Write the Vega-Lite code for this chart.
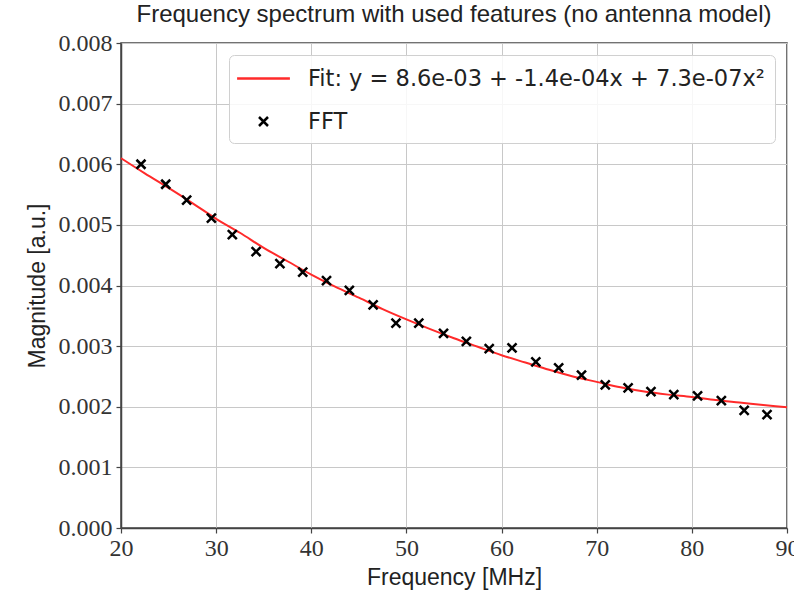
{
  "$schema": "https://vega.github.io/schema/vega-lite/v6.json",
  "autosize": {"type": "none"},
  "width": 666,
  "height": 485,
  "padding": {"left": 121, "top": 43, "right": 7, "bottom": 69},
  "background": "white",
  "config": {
    "view": {"stroke": "#444444", "strokeWidth": 1.5},
    "font": "Liberation Sans",
    "axis": {
      "labelFont": "Liberation Serif",
      "labelFontSize": 24,
      "labelColor": "#333333",
      "titleFont": "Liberation Sans",
      "titleFontSize": 23,
      "titleFontWeight": "normal",
      "titleColor": "#222222",
      "gridColor": "#c8c8c8",
      "gridWidth": 1,
      "domainColor": "#444444",
      "domainWidth": 1.5,
      "tickColor": "#444444",
      "tickSize": 5,
      "tickWidth": 1.2
    }
  },
  "title": {
    "text": "Frequency spectrum with used features (no antenna model)",
    "font": "Liberation Sans",
    "fontSize": 24,
    "fontWeight": "normal",
    "color": "#222222",
    "anchor": "middle",
    "offset": 4
  },
  "data": {
    "values": [
      {"f": 20, "m": 0.00610, "s": "Fit: y = 8.6e-03 + -1.4e-04x + 7.3e-07x²"},
      {"f": 22.5, "m": 0.00585, "s": "Fit: y = 8.6e-03 + -1.4e-04x + 7.3e-07x²"},
      {"f": 25, "m": 0.00561, "s": "Fit: y = 8.6e-03 + -1.4e-04x + 7.3e-07x²"},
      {"f": 27.5, "m": 0.00536, "s": "Fit: y = 8.6e-03 + -1.4e-04x + 7.3e-07x²"},
      {"f": 30, "m": 0.00510, "s": "Fit: y = 8.6e-03 + -1.4e-04x + 7.3e-07x²"},
      {"f": 32.5, "m": 0.00487, "s": "Fit: y = 8.6e-03 + -1.4e-04x + 7.3e-07x²"},
      {"f": 35, "m": 0.00462, "s": "Fit: y = 8.6e-03 + -1.4e-04x + 7.3e-07x²"},
      {"f": 37.5, "m": 0.00440, "s": "Fit: y = 8.6e-03 + -1.4e-04x + 7.3e-07x²"},
      {"f": 40, "m": 0.00418, "s": "Fit: y = 8.6e-03 + -1.4e-04x + 7.3e-07x²"},
      {"f": 42.5, "m": 0.00398, "s": "Fit: y = 8.6e-03 + -1.4e-04x + 7.3e-07x²"},
      {"f": 45, "m": 0.00380, "s": "Fit: y = 8.6e-03 + -1.4e-04x + 7.3e-07x²"},
      {"f": 47.5, "m": 0.00361, "s": "Fit: y = 8.6e-03 + -1.4e-04x + 7.3e-07x²"},
      {"f": 50, "m": 0.00344, "s": "Fit: y = 8.6e-03 + -1.4e-04x + 7.3e-07x²"},
      {"f": 52.5, "m": 0.00328, "s": "Fit: y = 8.6e-03 + -1.4e-04x + 7.3e-07x²"},
      {"f": 55, "m": 0.00313, "s": "Fit: y = 8.6e-03 + -1.4e-04x + 7.3e-07x²"},
      {"f": 57.5, "m": 0.00299, "s": "Fit: y = 8.6e-03 + -1.4e-04x + 7.3e-07x²"},
      {"f": 60, "m": 0.00285, "s": "Fit: y = 8.6e-03 + -1.4e-04x + 7.3e-07x²"},
      {"f": 62.5, "m": 0.00273, "s": "Fit: y = 8.6e-03 + -1.4e-04x + 7.3e-07x²"},
      {"f": 65, "m": 0.00261, "s": "Fit: y = 8.6e-03 + -1.4e-04x + 7.3e-07x²"},
      {"f": 67.5, "m": 0.00250, "s": "Fit: y = 8.6e-03 + -1.4e-04x + 7.3e-07x²"},
      {"f": 70, "m": 0.00241, "s": "Fit: y = 8.6e-03 + -1.4e-04x + 7.3e-07x²"},
      {"f": 72.5, "m": 0.00232, "s": "Fit: y = 8.6e-03 + -1.4e-04x + 7.3e-07x²"},
      {"f": 75, "m": 0.00225, "s": "Fit: y = 8.6e-03 + -1.4e-04x + 7.3e-07x²"},
      {"f": 77.5, "m": 0.00220, "s": "Fit: y = 8.6e-03 + -1.4e-04x + 7.3e-07x²"},
      {"f": 80, "m": 0.00216, "s": "Fit: y = 8.6e-03 + -1.4e-04x + 7.3e-07x²"},
      {"f": 82.5, "m": 0.00211, "s": "Fit: y = 8.6e-03 + -1.4e-04x + 7.3e-07x²"},
      {"f": 85, "m": 0.00207, "s": "Fit: y = 8.6e-03 + -1.4e-04x + 7.3e-07x²"},
      {"f": 87.5, "m": 0.00203, "s": "Fit: y = 8.6e-03 + -1.4e-04x + 7.3e-07x²"},
      {"f": 90, "m": 0.00199, "s": "Fit: y = 8.6e-03 + -1.4e-04x + 7.3e-07x²"},
      {"f": 22.1, "m": 0.00600, "s": "FFT"},
      {"f": 24.7, "m": 0.00567, "s": "FFT"},
      {"f": 26.9, "m": 0.00541, "s": "FFT"},
      {"f": 29.5, "m": 0.00511, "s": "FFT"},
      {"f": 31.7, "m": 0.00484, "s": "FFT"},
      {"f": 34.2, "m": 0.00456, "s": "FFT"},
      {"f": 36.7, "m": 0.00436, "s": "FFT"},
      {"f": 39.1, "m": 0.00422, "s": "FFT"},
      {"f": 41.6, "m": 0.00408, "s": "FFT"},
      {"f": 44.0, "m": 0.00392, "s": "FFT"},
      {"f": 46.5, "m": 0.00368, "s": "FFT"},
      {"f": 48.9, "m": 0.00338, "s": "FFT"},
      {"f": 51.3, "m": 0.00338, "s": "FFT"},
      {"f": 53.9, "m": 0.00321, "s": "FFT"},
      {"f": 56.3, "m": 0.00308, "s": "FFT"},
      {"f": 58.7, "m": 0.00296, "s": "FFT"},
      {"f": 61.1, "m": 0.00297, "s": "FFT"},
      {"f": 63.6, "m": 0.00274, "s": "FFT"},
      {"f": 66.0, "m": 0.00264, "s": "FFT"},
      {"f": 68.4, "m": 0.00252, "s": "FFT"},
      {"f": 70.9, "m": 0.00236, "s": "FFT"},
      {"f": 73.3, "m": 0.00231, "s": "FFT"},
      {"f": 75.7, "m": 0.00225, "s": "FFT"},
      {"f": 78.1, "m": 0.00220, "s": "FFT"},
      {"f": 80.6, "m": 0.00218, "s": "FFT"},
      {"f": 83.1, "m": 0.00210, "s": "FFT"},
      {"f": 85.5, "m": 0.00194, "s": "FFT"},
      {"f": 87.9, "m": 0.00187, "s": "FFT"}
    ]
  },
  "encoding": {
    "x": {
      "field": "f", "type": "quantitative",
      "scale": {"domain": [20, 90], "nice": false, "zero": false},
      "axis": {"values": [20, 30, 40, 50, 60, 70, 80, 90], "title": "Frequency [MHz]", "labelPadding": 3, "titlePadding": 6, "labelFlush": false}
    },
    "y": {
      "field": "m", "type": "quantitative",
      "scale": {"domain": [0, 0.008], "nice": false},
      "axis": {"values": [0, 0.001, 0.002, 0.003, 0.004, 0.005, 0.006, 0.007, 0.008], "format": ".3f", "title": "Magnitude [a.u.]", "labelPadding": 4, "titlePadding": 9, "labelFlush": false}
    },
    "color": {
      "field": "s", "type": "nominal",
      "scale": {"domain": ["Fit: y = 8.6e-03 + -1.4e-04x + 7.3e-07x²", "FFT"], "range": ["#ff2a2a", "#000000"]},
      "legend": {
        "title": null,
        "orient": "top-right",
        "offset": 12,
        "fillColor": "rgba(255,255,255,0.85)",
        "strokeColor": "#d0d0d0",
        "cornerRadius": 5,
        "padding": 10,
        "labelFont": "DejaVu Sans",
        "labelFontSize": 22.5,
        "labelColor": "#222222",
        "labelOffset": 31,
        "symbolOffset": 11,
        "symbolSize": 576,
        "symbolStrokeWidth": 2.5,
        "rowPadding": 18,
        "labelLimit": 600
      }
    },
    "shape": {
      "field": "s", "type": "nominal",
      "scale": {"domain": ["Fit: y = 8.6e-03 + -1.4e-04x + 7.3e-07x²", "FFT"], "range": ["M-2.2,0L2.2,0", "M-0.375,-0.375L0.375,0.375M-0.375,0.375L0.375,-0.375"]},
      "legend": null
    }
  },
  "layer": [
    {
      "transform": [{"filter": "datum.s !== 'FFT'"}],
      "mark": {"type": "line", "strokeWidth": 2, "interpolate": "monotone"}
    },
    {
      "transform": [{"filter": "datum.s === 'FFT'"}],
      "mark": {"type": "point", "filled": false, "size": 576, "strokeWidth": 2.5, "opacity": 1}
    }
  ]
}
